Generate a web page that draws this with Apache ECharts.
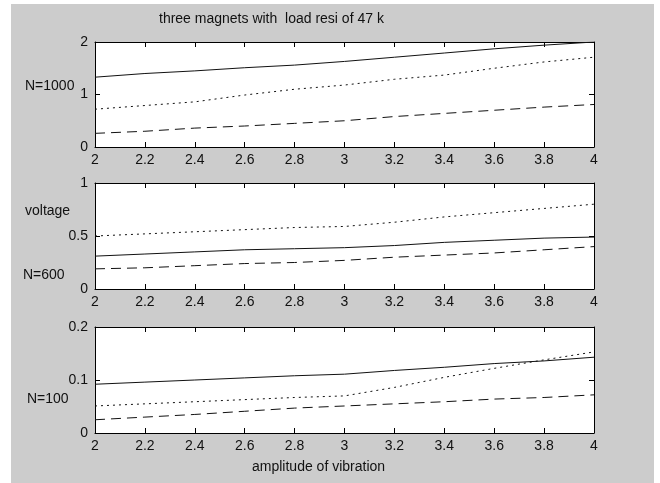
<!DOCTYPE html>
<html>
<head>
<meta charset="utf-8">
<script src="https://cdn.jsdelivr.net/npm/echarts@6/dist/echarts.min.js"></script>
<style>
html,body{margin:0;padding:0;background:#fff;}
#bg{position:absolute;left:11px;top:4px;width:643px;height:479px;background:#cccccc;}
#chart{position:absolute;left:0;top:0;width:660px;height:483px;}
</style>
</head>
<body>
<div id="bg"></div>
<div id="chart"></div>
<script>
// amplitude of vibration (x)
const amplitude = [2.0, 2.2, 2.4, 2.6, 2.8, 3.0, 3.2, 3.4, 3.6, 3.8, 4.0];

// N=1000
const n1000Solid  = [1.33, 1.40, 1.45, 1.51, 1.56, 1.63, 1.71, 1.79, 1.87, 1.94, 2.00];
const n1000Dotted = [0.72, 0.79, 0.86, 0.99, 1.10, 1.18, 1.29, 1.37, 1.50, 1.62, 1.71];
const n1000Dashed = [0.26, 0.30, 0.36, 0.40, 0.45, 0.50, 0.58, 0.64, 0.70, 0.76, 0.81];

// N=600
const n600Solid  = [0.31, 0.33, 0.35, 0.37, 0.38, 0.39, 0.41, 0.44, 0.46, 0.48, 0.49];
const n600Dotted = [0.50, 0.52, 0.54, 0.56, 0.58, 0.59, 0.63, 0.68, 0.72, 0.76, 0.80];
const n600Dashed = [0.19, 0.20, 0.22, 0.24, 0.25, 0.27, 0.30, 0.32, 0.34, 0.37, 0.40];

// N=100
const n100Solid  = [0.092, 0.096, 0.100, 0.104, 0.108, 0.111, 0.118, 0.124, 0.131, 0.136, 0.143];
const n100Dotted = [0.051, 0.055, 0.059, 0.063, 0.067, 0.070, 0.086, 0.105, 0.122, 0.138, 0.153];
const n100Dashed = [0.025, 0.030, 0.035, 0.041, 0.047, 0.051, 0.055, 0.059, 0.064, 0.067, 0.072];

// axis ranges / ticks
const xTicks = [2, 4, 0.2];
const yRanges = [[0, 2, 1], [0, 1, 0.5], [0, 0.2, 0.1]];

const titleText = 'three magnets with  load resi of 47 k';
const xLabelText = 'amplitude of vibration';
const yLabelText = 'voltage';
const panelLabels = ['N=1000', 'N=600', 'N=100'];

const FONT = 'Liberation Sans, Arial, sans-serif';
const grids = [
  {left: 95, right: 66, top: 42, height: 105},
  {left: 95, right: 66, top: 183, height: 106},
  {left: 95, right: 66, top: 327, height: 106}
];
const panelData = [
  [n1000Solid, n1000Dotted, n1000Dashed],
  [n600Solid, n600Dotted, n600Dashed],
  [n100Solid, n100Dotted, n100Dashed]
];
const styles = ['solid', [2, 4], [10, 6]];

const xAxis = [], yAxis = [], series = [];
const fmt = v => String(Math.round(v * 100) / 100);
grids.forEach((g, i) => {
  g.show = true; g.backgroundColor = '#ffffff'; g.borderWidth = 0;
  ['bottom', 'top'].forEach(pos => {
    xAxis.push({
      type: 'value', gridIndex: i, position: pos,
      min: xTicks[0], max: xTicks[1], interval: xTicks[2],
      axisLine: {show: true, onZero: false, lineStyle: {color: '#000', width: 1}},
      axisTick: {show: true, inside: true, length: 5, lineStyle: {color: '#000'}},
      axisLabel: {show: pos === 'bottom', color: '#111', fontFamily: FONT, fontSize: 14, margin: 6, formatter: fmt},
      splitLine: {show: false}
    });
  });
  const r = yRanges[i];
  ['left', 'right'].forEach(pos => {
    yAxis.push({
      type: 'value', gridIndex: i, position: pos,
      min: r[0], max: r[1], interval: r[2],
      axisLine: {show: true, onZero: false, lineStyle: {color: '#000', width: 1}},
      axisTick: {show: true, inside: true, length: 5, lineStyle: {color: '#000'}},
      axisLabel: {show: pos === 'left', color: '#111', fontFamily: FONT, fontSize: 14, margin: 7, formatter: fmt},
      splitLine: {show: false}
    });
  });
  panelData[i].forEach((arr, k) => {
    series.push({
      type: 'line',
      xAxisIndex: i * 2, yAxisIndex: i * 2,
      data: amplitude.map((x, j) => [x, arr[j]]),
      showSymbol: false, symbol: 'none',
      lineStyle: {color: '#111', width: 1, type: styles[k]},
      animation: false
    });
  });
});

const txt = (left, cy, text) => ({
  type: 'text', left: left, top: cy - 8,
  style: {text: text, fill: '#111', font: '14px ' + FONT}
});

const chart = echarts.init(document.getElementById('chart'));
chart.setOption({
  backgroundColor: 'transparent',
  animation: false,
  grid: grids,
  xAxis: xAxis,
  yAxis: yAxis,
  series: series,
  graphic: [
    txt(159, 20, titleText),
    txt(25, 87, panelLabels[0]),
    txt(25, 212, yLabelText),
    txt(23, 276, panelLabels[1]),
    txt(27, 400, panelLabels[2]),
    txt(252, 468, xLabelText)
  ]
});
</script>
</body>
</html>
